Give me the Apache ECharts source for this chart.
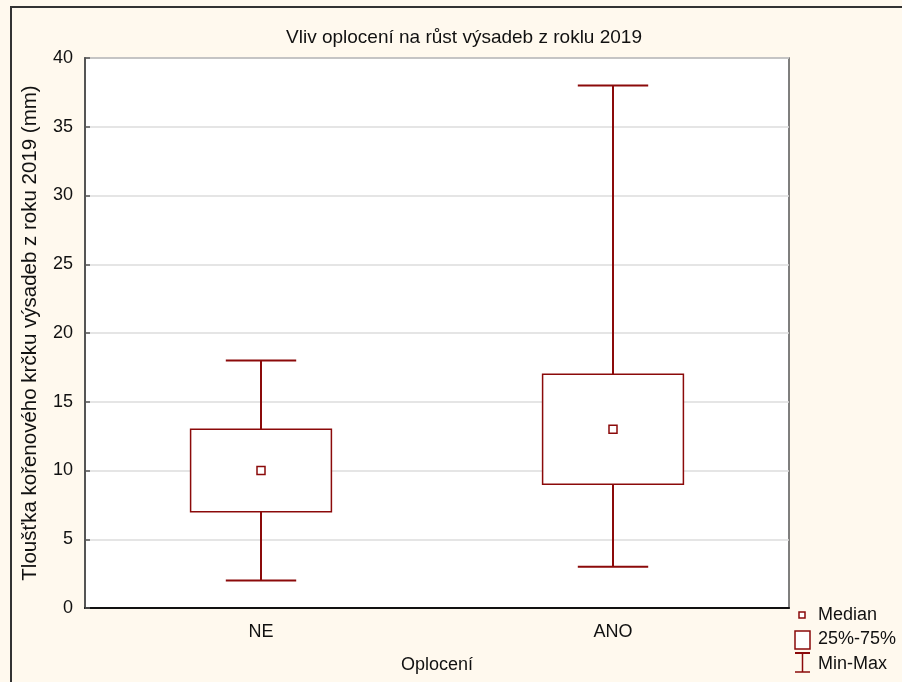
<!DOCTYPE html>
<html>
<head>
<meta charset="utf-8">
<script src="https://cdn.jsdelivr.net/npm/echarts@6/dist/echarts.min.js"></script>
<style>html,body{margin:0;padding:0;background:#fff9ee;}#c{width:902px;height:682px;}</style>
</head>
<body>
<div id="c"></div>
<script>
const categories = ['NE', 'ANO'];
const minValues = [2, 3];
const q1Values = [7, 9];
const medianValues = [10, 13];
const q3Values = [13, 17];
const maxValues = [18, 38];
const yTicks = [0, 5, 10, 15, 20, 25, 30, 35, 40];

const RED = '#8b0a0a';
const FONT = '"Liberation Sans", Arial, sans-serif';
const data = categories.map((c, i) => [i, minValues[i], q1Values[i], medianValues[i], q3Values[i], maxValues[i]]);

function renderItem(params, api) {
  const idx = api.value(0);
  const bw = api.size([1, 0])[0];
  const cx = api.coord([idx, 0])[0];
  const yMin = api.coord([idx, api.value(1)])[1];
  const yQ1 = api.coord([idx, api.value(2)])[1];
  const yMed = api.coord([idx, api.value(3)])[1];
  const yQ3 = api.coord([idx, api.value(4)])[1];
  const yMax = api.coord([idx, api.value(5)])[1];
  const boxHalf = bw * 0.2;
  const capHalf = bw * 0.1;
  const wl = { stroke: RED, lineWidth: 2 };
  return {
    type: 'group',
    children: [
      { type: 'line', shape: { x1: cx, y1: yMax, x2: cx, y2: yQ3 }, style: wl },
      { type: 'line', shape: { x1: cx, y1: yQ1, x2: cx, y2: yMin }, style: wl },
      { type: 'line', shape: { x1: cx - capHalf, y1: yMax, x2: cx + capHalf, y2: yMax }, style: wl },
      { type: 'line', shape: { x1: cx - capHalf, y1: yMin, x2: cx + capHalf, y2: yMin }, style: wl },
      { type: 'rect', shape: { x: cx - boxHalf, y: yQ3, width: boxHalf * 2, height: yQ1 - yQ3 }, style: { fill: '#fff', stroke: RED, lineWidth: 1.5 } },
      { type: 'rect', shape: { x: cx - 4, y: yMed - 4, width: 8, height: 8 }, style: { fill: '#fff', stroke: RED, lineWidth: 1.5 } }
    ]
  };
}

const chart = echarts.init(document.getElementById('c'), null, { renderer: 'canvas' });
chart.setOption({
  backgroundColor: '#fff9ee',
  animation: false,
  title: {
    text: 'Vliv oplocení na růst výsadeb z roklu 2019',
    left: 459, top: 23, textAlign: 'center',
    textStyle: { fontFamily: FONT, fontSize: 19, fontWeight: 'normal', color: '#111' }
  },
  grid: { left: 85, top: 58, right: 113, bottom: 74, outerBoundsMode: 'none', containLabel: false,
    show: true, backgroundColor: '#fff', borderColor: '#555', borderWidth: 1.5 },
  xAxis: {
    type: 'category', data: categories,
    name: 'Oplocení', nameLocation: 'middle', nameGap: 48,
    nameTextStyle: { fontFamily: FONT, fontSize: 18, color: '#111' },
    axisLine: { lineStyle: { color: '#111', width: 2 } },
    axisTick: { inside: true, alignWithLabel: true, length: 4, lineStyle: { color: '#111', width: 1.5 } },
    axisLabel: { fontFamily: FONT, fontSize: 18, color: '#111', margin: 15 },
    splitLine: { show: false }
  },
  yAxis: {
    type: 'value', min: 0, max: 40, interval: 5,
    name: 'Tloušťka kořenového krčku výsadeb z roku 2019 (mm)', nameLocation: 'middle', nameGap: 44,
    nameTextStyle: { fontFamily: FONT, fontSize: 20.5, color: '#111' },
    axisLine: { show: true, lineStyle: { color: '#555', width: 2 } },
    axisTick: { show: true, inside: true, length: 5, lineStyle: { color: '#555', width: 1.5 } },
    axisLabel: { fontFamily: FONT, fontSize: 18, color: '#111', margin: 12,
      formatter: v => yTicks.includes(v) ? String(v) : '' },
    splitLine: { show: true, lineStyle: { color: '#dcdcdc', width: 1.5 } }
  },
  series: [{ type: 'custom', renderItem: renderItem, data: data, encode: { x: 0, y: [1, 2, 3, 4, 5] }, clip: false }],
  graphic: [
    { type: 'rect', shape: { x: 11, y: 7, width: 1000, height: 1000 }, style: { fill: 'none', stroke: '#333', lineWidth: 2 }, silent: true },
    { type: 'rect', shape: { x: 799, y: 612, width: 6, height: 6 }, style: { fill: '#fff', stroke: RED, lineWidth: 1.5 } },
    { type: 'text', x: 818, y: 615, style: { text: 'Median', fontFamily: FONT, fontSize: 18, fill: '#111', verticalAlign: 'middle' } },
    { type: 'rect', shape: { x: 795, y: 631, width: 15, height: 18 }, style: { fill: '#fff', stroke: RED, lineWidth: 1.5 } },
    { type: 'text', x: 818, y: 639, style: { text: '25%-75%', fontFamily: FONT, fontSize: 18, fill: '#111', verticalAlign: 'middle' } },
    { type: 'line', shape: { x1: 795, y1: 653, x2: 810, y2: 653 }, style: { stroke: RED, lineWidth: 2 } },
    { type: 'line', shape: { x1: 795, y1: 672, x2: 810, y2: 672 }, style: { stroke: RED, lineWidth: 1.5 } },
    { type: 'line', shape: { x1: 802.5, y1: 653, x2: 802.5, y2: 672 }, style: { stroke: RED, lineWidth: 1.5 } },
    { type: 'text', x: 818, y: 664, style: { text: 'Min-Max', fontFamily: FONT, fontSize: 18, fill: '#111', verticalAlign: 'middle' } }
  ]
});
</script>
</body>
</html>
